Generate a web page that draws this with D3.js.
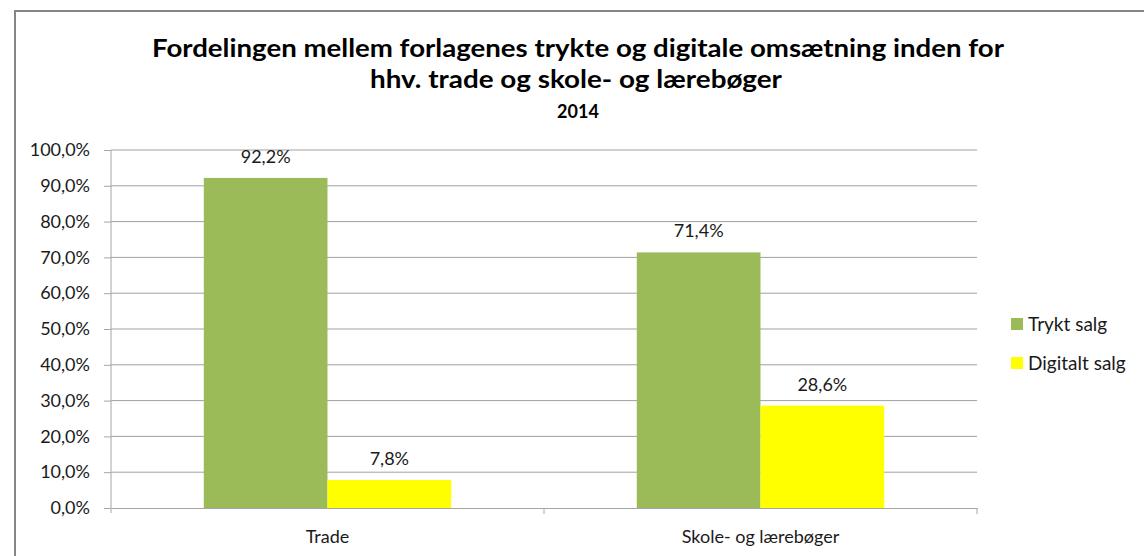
<!DOCTYPE html>
<html>
<head>
<meta charset="utf-8">
<script src="https://cdn.jsdelivr.net/npm/d3@7"></script>
<style>
  body { margin: 0; background: #fff; }
  text { font-family: Lato, "Open Sans", sans-serif; }
</style>
</head>
<body>
<svg id="chart" width="1144" height="556"></svg>
<script>
// chart data
var categories = ["Trade", "Skole- og lærebøger"];
var seriesNames = ["Trykt salg", "Digitalt salg"];
var tryktSalg = [0.922, 0.714];
var digitaltSalg = [0.078, 0.286];
var yTicks = [0, 0.1, 0.2, 0.3, 0.4, 0.5, 0.6, 0.7, 0.8, 0.9, 1.0];
var colors = ["#9BBB59", "#FFFF00"];

var svg = d3.select("#chart");
var margin = { top: 150, left: 111, right: 167, bottom: 48 };
var width = 1144 - margin.left - margin.right;
var height = 556 - margin.top - margin.bottom;
var textCol = "#1a1a1a";

var fmt = function (v) { return d3.format(".1f")(v * 100).replace(".", ",") + "%"; };

// outer chart border (only left and top visible)
svg.append("path")
  .attr("d", "M15,556 V11 H1144")
  .attr("fill", "none")
  .attr("stroke", "#868686")
  .attr("stroke-width", 2);

// titles
svg.append("text").attr("x", 578).attr("y", 57).attr("text-anchor", "middle")
  .attr("font-size", 25).attr("font-weight", "bold").attr("fill", "#000")
  .attr("textLength", 852).attr("lengthAdjust", "spacingAndGlyphs")
  .text("Fordelingen mellem forlagenes trykte og digitale omsætning inden for");
svg.append("text").attr("x", 576).attr("y", 88).attr("text-anchor", "middle")
  .attr("font-size", 25).attr("font-weight", "bold").attr("fill", "#000")
  .attr("textLength", 412).attr("lengthAdjust", "spacingAndGlyphs")
  .text("hhv. trade og skole- og lærebøger");
svg.append("text").attr("x", 578).attr("y", 118).attr("text-anchor", "middle")
  .attr("font-size", 18).attr("font-weight", "bold").attr("fill", "#000")
  .text("2014");

var g = svg.append("g").attr("transform", "translate(" + margin.left + "," + margin.top + ")");

var x0 = d3.scaleBand().domain(categories).range([0, width]);
var x1 = d3.scaleBand().domain(seriesNames)
  .range([x0.bandwidth() * 0.75 / 3.5, x0.bandwidth() - x0.bandwidth() * 0.75 / 3.5]);
var y = d3.scaleLinear().domain([0, 1]).range([height, 0]);

// gridlines
g.selectAll(".grid").data(yTicks.slice(1)).enter().append("line")
  .attr("x1", 0).attr("x2", width)
  .attr("y1", d => y(d)).attr("y2", d => y(d))
  .attr("stroke", "#A0A0A0").attr("stroke-width", 1);

// y axis
var yAxis = g.append("g")
  .call(d3.axisLeft(y).tickValues(yTicks).tickFormat(fmt).tickSize(7).tickPadding(14));
yAxis.select(".domain").attr("stroke", "#A6A6A6").attr("d", "M0," + (height + 5) + "V0");
yAxis.selectAll(".tick line").attr("stroke", "#A6A6A6");
yAxis.selectAll("text").attr("font-size", 18).attr("fill", textCol)
  .attr("font-family", "Lato, sans-serif");

// bars
var rows = categories.map((c, i) => ({ cat: c, vals: [tryktSalg[i], digitaltSalg[i]] }));
var grp = g.selectAll(".cat").data(rows).enter().append("g")
  .attr("transform", d => "translate(" + x0(d.cat) + ",0)");
grp.selectAll("rect").data(d => d.vals.map((v, j) => ({ name: seriesNames[j], v: v, j: j })))
  .enter().append("rect")
  .attr("x", d => x1(d.name)).attr("width", x1.bandwidth())
  .attr("y", d => y(d.v)).attr("height", d => height - y(d.v))
  .attr("fill", d => colors[d.j]);
grp.selectAll(".lbl").data(d => d.vals.map((v, j) => ({ name: seriesNames[j], v: v })))
  .enter().append("text")
  .attr("x", d => x1(d.name) + x1.bandwidth() / 2)
  .attr("y", d => y(d.v) - 15)
  .attr("text-anchor", "middle").attr("font-size", 18).attr("fill", textCol)
  .text(d => fmt(d.v));

// x axis
var xAxis = g.append("g").attr("transform", "translate(0," + height + ")")
  .call(d3.axisBottom(x0).tickSize(0).tickPadding(22));
xAxis.select(".domain").attr("stroke", "#A6A6A6");
xAxis.selectAll("text").attr("font-size", 18).attr("fill", textCol)
  .attr("font-family", "Lato, sans-serif");
g.selectAll(".xtick").data(categories).enter().append("line")
  .attr("x1", d => x0(d) + x0.bandwidth()).attr("x2", d => x0(d) + x0.bandwidth())
  .attr("y1", height).attr("y2", height + 6)
  .attr("stroke", "#A6A6A6");

// legend
var leg = svg.append("g").attr("transform", "translate(1011,318)");
seriesNames.forEach(function (n, i) {
  leg.append("rect").attr("x", 0).attr("y", i * 39).attr("width", 12).attr("height", 12)
    .attr("fill", colors[i]);
  leg.append("text").attr("x", 17).attr("y", i * 39 + 13)
    .attr("font-size", 19).attr("fill", textCol).text(n);
});
</script>
</body>
</html>
